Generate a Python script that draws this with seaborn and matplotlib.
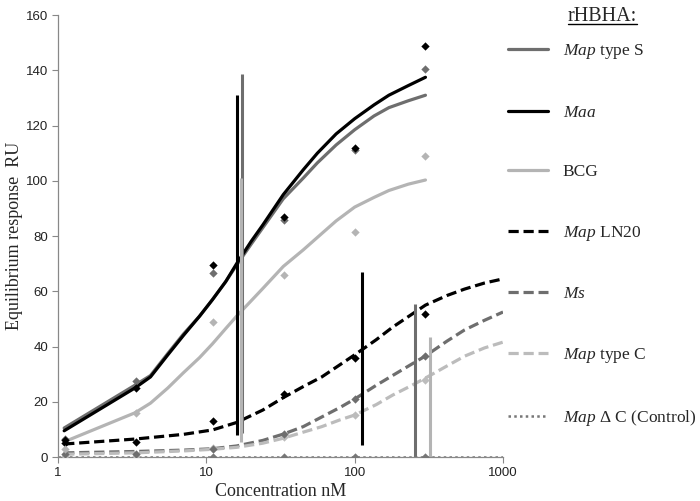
import matplotlib
matplotlib.use('Agg')
import matplotlib.pyplot as plt
from matplotlib.lines import Line2D
import seaborn as sns

# measured concentrations (nM) and responses (RU)
conc = [1.11, 3.33, 11.1, 33.3, 100, 300]
pts_map_s = [6.5, 27.5, 66.7, 86, 111, 140.4]
pts_maa = [6.0, 25, 69.5, 87, 112, 148.8]
pts_bcg = [3.0, 16, 49, 65.9, 81.4, 108.9]
pts_ln20 = [5.0, 5.4, 13, 22.8, 36, 51.7]
pts_ms = [1.0, 1.0, 3.0, 8.3, 21, 36.6]
pts_typec = [0.5, 0.5, 3.3, 7.2, 15.2, 28]
pts_ctrl = [0, 0, 0, 0, 0, 0]

# fitted curves
fit_x_solid = [1.1, 3.3, 4.2, 5.5, 7, 9, 11, 13.5, 16, 20, 24, 33, 45, 56, 75, 100, 135, 170, 230, 300]
fit_map_s = [10.5, 26, 29.5, 37.5, 44.5, 51, 57, 63.5, 69.5, 77, 83, 93.5, 101, 106.5, 113, 118.5, 123.5, 126.5, 129, 131]
fit_maa = [9.5, 25, 29, 37, 44, 51, 57, 63.5, 70, 78, 84, 95, 104, 110, 117, 122.5, 127.5, 131, 134.5, 137.5]
fit_bcg = [5.5, 16, 19.5, 25, 30.5, 36, 41, 46.5, 51, 56.5, 61, 69, 75, 79.5, 85.5, 90.5, 94, 96.5, 98.8, 100.3]

fit_x_dash = [1.1, 3.3, 7, 11, 16, 24, 33, 45, 60, 80, 100, 140, 180, 240, 300, 420, 550, 750, 1000]
fit_ln20 = [4.7, 6.5, 8.2, 9.8, 12.5, 17, 21.5, 25.5, 29, 33.5, 37, 42.5, 47, 51.5, 55, 58.5, 60.8, 63, 64.5]
fit_ms = [1.5, 2, 2.5, 3, 4, 6, 8.3, 11, 14.5, 18, 21, 26, 29.5, 33.5, 36.6, 42, 46, 49.5, 52.5]
fit_typec = [1, 1.5, 2.2, 2.8, 3.5, 5, 6.8, 9, 11, 13.5, 15.2, 19, 22.4, 25.8, 28.6, 33, 36.5, 39.5, 41.6]

fit_x_ctrl = [1, 1000]
fit_ctrl = [0, 0]

# vertical markers
vl_x = [16.0, 17.5, 17.0, 112, 254, 321]
vl_lo = [8, 8.7, 5.4, 4.3, 0, 0]
vl_hi = [131, 138.6, 101, 67, 55.4, 43.4]

labels = [r'$\mathit{Map}$ type S', r'$\mathit{Maa}$', 'BCG', r'$\mathit{Map}$ LN20',
          r'$\mathit{Ms}$', r'$\mathit{Map}$ type C', r'$\mathit{Map}$ Δ C (Control)']

DARK = '#6e6e6e'
BLACK = '#000000'
LIGHT = '#b4b4b4'
LIGHT2 = '#bcbcbc'

sns.set_theme(style='white')
plt.rcParams['font.family'] = ['Liberation Sans', 'DejaVu Sans']
plt.rcParams['mathtext.fontset'] = 'custom'
plt.rcParams['mathtext.it'] = 'Liberation Serif:italic'
plt.rcParams['mathtext.rm'] = 'Liberation Serif'

fig = plt.figure(figsize=(7, 5.01), dpi=100)
ax = fig.add_axes([0.0829, 0.0878, 0.6357, 0.882])
ax.set_xscale('log')

dash = (3.2, 1.5)
sns.lineplot(x=fit_x_solid, y=fit_map_s, ax=ax, color=DARK, lw=2.3, label=labels[0])
sns.lineplot(x=fit_x_solid, y=fit_maa, ax=ax, color=BLACK, lw=2.3, label=labels[1])
sns.lineplot(x=fit_x_solid, y=fit_bcg, ax=ax, color=LIGHT, lw=2.3, label=labels[2])
sns.lineplot(x=fit_x_dash, y=fit_ln20, ax=ax, color=BLACK, lw=2.3, linestyle=(0, dash), label=labels[3])
sns.lineplot(x=fit_x_dash, y=fit_ms, ax=ax, color=DARK, lw=2.3, linestyle=(0, dash), label=labels[4])
sns.lineplot(x=fit_x_dash, y=fit_typec, ax=ax, color=LIGHT2, lw=2.3, linestyle=(0, dash), label=labels[5])
sns.lineplot(x=fit_x_ctrl, y=fit_ctrl, ax=ax, color='#777777', lw=1.8, linestyle=(0, (1, 1.3)), label=labels[6])

vl_colors = [BLACK, DARK, LIGHT, BLACK, DARK, LIGHT]
ax.vlines(vl_x, vl_lo, vl_hi, colors=vl_colors, lw=2.2)

for pts, c in [(pts_ctrl, '#777777'), (pts_typec, LIGHT2), (pts_ms, DARK), (pts_ln20, BLACK),
               (pts_bcg, LIGHT), (pts_map_s, DARK), (pts_maa, BLACK)]:
    sns.scatterplot(x=conc, y=pts, ax=ax, color=c, marker='D', s=18, linewidth=0, zorder=5)

ax.set_xlim(1, 1000)
ax.set_ylim(0, 160)
ax.set_yticks(range(0, 161, 20))
ax.set_xticks([1, 10, 100, 1000])
ax.set_xticklabels(['1', '10', '100', '1000'])
ax.minorticks_off()
ax.tick_params(axis='both', direction='out', length=4, width=0.8, color='#888888',
               labelsize=9.5, labelcolor='#222222', left=True, bottom=True, pad=3)
for s in ['top', 'right']:
    ax.spines[s].set_visible(False)
for s in ['left', 'bottom']:
    ax.spines[s].set_color('#888888')
    ax.spines[s].set_linewidth(0.9)

ax.set_xlabel('Concentration nM', family='Liberation Serif', fontsize=13, labelpad=3)
ax.set_ylabel('Equilibrium response  RU', family='Liberation Serif', fontsize=13, labelpad=2)

leg = ax.legend(loc='upper left', bbox_to_anchor=(0.7257, 0.987), bbox_transform=fig.transFigure,
                frameon=False, title='rHBHA:', handlelength=2.3, handletextpad=0.85,
                labelspacing=2.5, borderpad=0, borderaxespad=0,
                prop={'family': 'Liberation Serif', 'size': 12.5})
leg.get_title().set_family('Liberation Serif')
leg.get_title().set_fontsize(14.5)
leg._legend_box.sep = 12

fig.canvas.draw()
bb = leg.get_title().get_window_extent().transformed(fig.transFigure.inverted())
fig.add_artist(Line2D([bb.x0, bb.x1], [bb.y0 + 0.004, bb.y0 + 0.004], color='black', lw=1,
                      transform=fig.transFigure))

fig.savefig('out.png', dpi=100)
